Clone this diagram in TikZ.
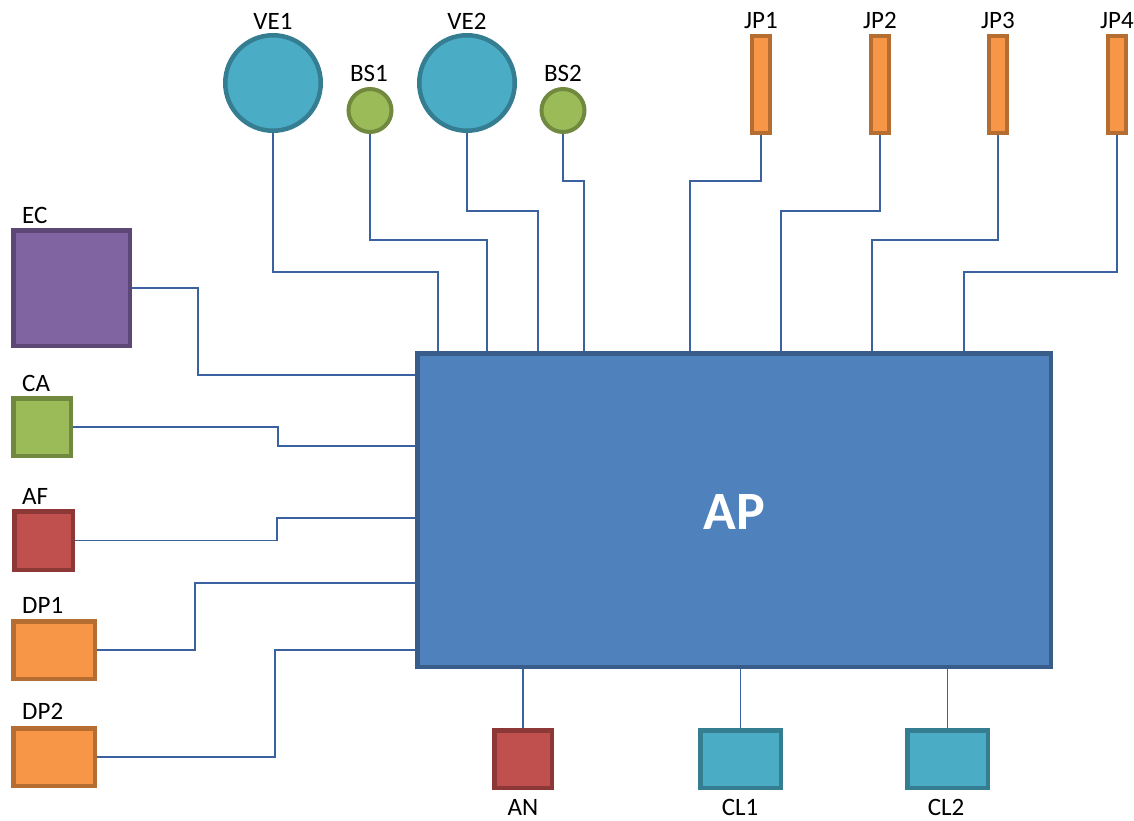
\documentclass[tikz,border=0pt]{standalone}
\usepackage{fontspec}
\setmainfont{Carlito}
\usetikzlibrary{backgrounds}
\definecolor{apfill}{HTML}{4F81BD}\definecolor{apline}{HTML}{385D8A}
\definecolor{aqfill}{HTML}{4BACC6}\definecolor{aqline}{HTML}{357D91}
\definecolor{grfill}{HTML}{9BBB59}\definecolor{grline}{HTML}{71893F}
\definecolor{pufill}{HTML}{8064A2}\definecolor{puline}{HTML}{5C4776}
\definecolor{rdfill}{HTML}{C0504D}\definecolor{rdline}{HTML}{8C3836}
\definecolor{orfill}{HTML}{F79646}\definecolor{orline}{HTML}{B66D32}
\definecolor{wirec}{HTML}{3A62A0}
\begin{document}
\begin{tikzpicture}[x=1pt,y=-1pt,
  unit/.style={inner sep=0pt, outer sep=0pt, line width=4.5pt},
  rbox/.style={unit, rectangle, minimum width=#1},
  blue box/.style={draw=apline, fill=apfill},
  aqua/.style={draw=aqline, fill=aqfill},
  green/.style={draw=grline, fill=grfill},
  purple/.style={draw=puline, fill=pufill},
  red/.style={draw=rdline, fill=rdfill},
  orange/.style={draw=orline, fill=orfill},
  bigdisc/.style={unit, circle, minimum size=95.5pt, aqua},
  smalldisc/.style={unit, circle, line width=4pt, minimum size=43pt, green},
  jpbar/.style={unit, rectangle, line width=4pt, minimum width=18pt, minimum height=97pt, orange},
  lbl/.style={font=\fontsize{25}{30}\selectfont, inner sep=0pt, anchor=base},
  lbll/.style={lbl, anchor=base west},
  wire/.style={draw=wirec, line width=1.7pt}]
\useasboundingbox (0,0) rectangle (1134,821);

% central block
\node[rbox=633.5pt, minimum height=313.5pt, blue box] (AP) at (734,510) {};
\node[font=\bfseries\fontsize{54}{60}\selectfont, text=white, inner sep=0pt, anchor=base] (tAP) at (734,529) {AP};

% top row
\node[bigdisc] (VE1) at (273,83) {};
\node[bigdisc] (VE2) at (467,83) {};
\node[smalldisc] (BS1) at (370,110.5) {};
\node[smalldisc] (BS2) at (563,110.5) {};
\node[jpbar] (JP1) at (761,84.5) {};
\node[jpbar] (JP2) at (880,84.5) {};
\node[jpbar] (JP3) at (998,84.5) {};
\node[jpbar] (JP4) at (1117,84.5) {};

\node[lbl] (tVE1) at (273,30) {VE1};
\node[lbl] (tVE2) at (467,30) {VE2};
\node[lbl] (tBS1) at (369,82) {BS1};
\node[lbl] (tBS2) at (563,82) {BS2};
\node[lbl] (tJP1) at (761,29) {JP1};
\node[lbl] (tJP2) at (880,29) {JP2};
\node[lbl] (tJP3) at (998,29) {JP3};
\node[lbl] (tJP4) at (1117,29) {JP4};

% left column
\node[rbox=116.5pt, minimum height=115.5pt, purple] (EC) at (71.5,288) {};
\node[rbox=57.5pt, minimum height=57.5pt, green] (CA) at (42,427) {};
\node[rbox=58.5pt, minimum height=58.5pt, red] (AF) at (43.5,540.5) {};
\node[rbox=81.5pt, minimum height=57.5pt, orange] (DP1) at (54,650) {};
\node[rbox=81.5pt, minimum height=57.5pt, orange] (DP2) at (54,757) {};

\node[lbll] (tEC) at (22,223) {EC};
\node[lbll] (tCA) at (22,391) {CA};
\node[lbll] (tAF) at (22,504) {AF};
\node[lbll] (tDP1) at (22,613) {DP1};
\node[lbll] (tDP2) at (22,719) {DP2};

% bottom row
\node[rbox=57.5pt, minimum height=57.5pt, red] (AN) at (523,759) {};
\node[rbox=80.5pt, minimum height=57.5pt, aqua] (CL1) at (740.5,759) {};
\node[rbox=80.5pt, minimum height=57.5pt, aqua] (CL2) at (947.5,759) {};

\node[lbl] (tAN) at (523,815) {AN};
\node[lbl] (tCL1) at (740,815) {CL1};
\node[lbl] (tCL2) at (946,815) {CL2};

% connectors
\begin{scope}[on background layer]
\draw[wire] (VE1.south) |- (438,272) -- (438,0 |- AP.north);
\draw[wire] (BS1.south) |- (487,240) -- (487,0 |- AP.north);
\draw[wire] (VE2.south) |- (538,211) -- (538,0 |- AP.north);
\draw[wire] (BS2.south) |- (584,181) -- (584,0 |- AP.north);
\draw[wire] (JP1.south) |- (690,181) -- (690,0 |- AP.north);
\draw[wire] (JP2.south) |- (781,211) -- (781,0 |- AP.north);
\draw[wire] (JP3.south) |- (872,240) -- (872,0 |- AP.north);
\draw[wire] (JP4.south) |- (964,272) -- (964,0 |- AP.north);

\draw[wire] (EC.east) -| (198,375) -- (AP.west |- 0,375);
\draw[wire] (CA.east) -| (278,446) -- (AP.west |- 0,446);
\draw[wire] (AF.east) -| (277,518) -- (AP.west |- 0,518);
\draw[wire] (DP1.east) -| (195,583) -- (AP.west |- 0,583);
\draw[wire] (DP2.east) -| (275,650) -- (AP.west |- 0,650);

\draw[wire] (AN.north) -- (AN.north |- AP.south);
\draw[wire] (CL1.north) -- (CL1.north |- AP.south);
\draw[wire] (CL2.north) -- (CL2.north |- AP.south);
\end{scope}
\end{tikzpicture}
\end{document}
